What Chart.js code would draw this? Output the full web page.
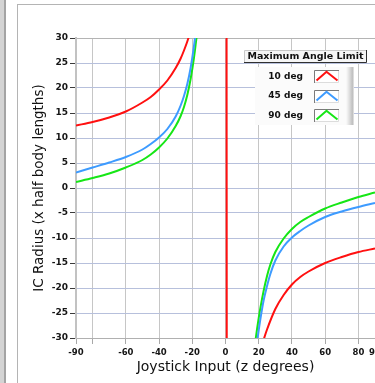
<!DOCTYPE html>
<html>
<head>
<meta charset="utf-8">
<script src="https://cdn.jsdelivr.net/npm/chart.js@4/dist/chart.umd.min.js"></script>
<style>
  html, body { margin: 0; padding: 0; background: #fff; width: 375px; height: 383px; overflow: hidden; }
  #bar { position: absolute; left: 0; top: 0; width: 4px; height: 383px; background: #d4d4d4; border-right: 2px solid #a4a4a4; }
  #frame { position: absolute; left: 17px; top: 4px; width: 420px; height: 420px; border-left: 1px solid #b4b4b4; border-top: 1px solid #b4b4b4; }
  #c { position: absolute; left: 0; top: 0; }
</style>
</head>
<body>
<div id="bar"></div>
<div id="frame"></div>
<canvas id="c" width="375" height="383"></canvas>
<script>
// Joystick input (degrees) and instantaneous-centre radius for each angle limit.
// A null radius breaks the line across the asymptote.
const zRed   = [-90, -80, -70, -60, -50, -45, -40, -35, -30, -27, -25, -23, -21, 0.6, 0.8,
                21, 23, 25, 30, 35, 40, 45, 50, 60, 70, 80, 90];
const rRed   = [12.5, 13.2, 14.1, 15.3, 17.1, 18.2, 19.7, 21.5, 24.0, 25.9, 27.5, 29.3, 31.4, 60, -60,
                -32.5, -30.3, -28.3, -24.2, -21.4, -19.3, -17.8, -16.7, -15.0, -13.8, -12.8, -12.1];

const zBlue  = [-90, -80, -70, -60, -50, -45, -40, -35, -30, -27, -25, -23, -21, -19, -18, 0,
                19, 20, 21, 23, 25, 27, 30, 35, 40, 45, 50, 60, 70, 80, 90];
const rBlue  = [3.1, 4.1, 5.1, 6.2, 7.7, 8.8, 10.1, 11.8, 14.3, 16.5, 18.4, 20.8, 24.0, 28.3, 31.0, null,
                -30.8, -28.4, -26.2, -22.4, -19.6, -17.2, -14.5, -11.7, -9.9, -8.6, -7.5, -5.8, -4.7, -3.8, -3.0];

const zGreen = [-90, -80, -70, -60, -50, -45, -40, -35, -30, -27, -25, -23, -21, -19, -18, -17, 0,
                18, 19, 20, 21, 23, 25, 27, 30, 35, 40, 45, 50, 60, 70, 80, 90];
const rGreen = [1.2, 2.0, 2.9, 4.1, 5.6, 6.7, 8.1, 9.9, 12.4, 14.4, 16.2, 18.6, 21.8, 26.0, 28.6, 31.3, null,
                -30.6, -28.2, -26.0, -24.0, -20.5, -17.6, -15.3, -12.8, -10.1, -8.2, -6.8, -5.8, -4.1, -2.9, -1.8, -0.9];

const seriesNames  = ['10 deg', '45 deg', '90 deg'];
const seriesColors = ['#ff1010', '#3d9bff', '#16e616'];

// Axis ticks: marks every 20 plus both ends; -80 carries no label.
const xTicks  = [-90, -80, -60, -40, -20, 0, 20, 40, 60, 80, 90];
const xLabels = [-90, -60, -40, -20, 0, 20, 40, 60, 80, 90];
const yTicks  = [-30, -25, -20, -15, -10, -5, 0, 5, 10, 15, 20, 25, 30];

const legendTitle = 'Maximum Angle Limit';
const xTitle = 'Joystick Input (z degrees)';
const yTitle = 'IC Radius (x half body lengths)';

const pairs = (xs, ys) => xs.map((x, i) => ({ x: x, y: ys[i] }));

// Framed legend panel drawn over the plot.
const angleLegend = {
  id: 'angleLegend',
  afterDraw(chart) {
    const ctx = chart.ctx;
    ctx.save();
    // panel
    ctx.fillStyle = '#fbfbfb';
    ctx.fillRect(255, 67, 99, 58);
    const g = ctx.createLinearGradient(346, 0, 354, 0);
    g.addColorStop(0, 'rgba(170,170,170,0)');
    g.addColorStop(0.8, 'rgba(150,150,150,0.6)');
    g.addColorStop(1, 'rgba(200,200,200,0.4)');
    ctx.fillStyle = g;
    ctx.fillRect(346, 67, 8, 58);

    // title box
    ctx.fillStyle = '#f6f6f6';
    ctx.fillRect(244, 51, 123, 12);
    ctx.lineWidth = 1;
    ctx.strokeStyle = '#c8c8c8';
    ctx.beginPath();
    ctx.moveTo(244.5, 63); ctx.lineTo(244.5, 50.5); ctx.lineTo(367, 50.5);
    ctx.stroke();
    ctx.strokeStyle = '#303030';
    ctx.beginPath();
    ctx.moveTo(244, 62.5); ctx.lineTo(366.5, 62.5); ctx.lineTo(366.5, 50);
    ctx.stroke();
    ctx.fillStyle = '#111';
    ctx.font = 'bold 9.5px "DejaVu Sans"';
    ctx.textAlign = 'center';
    ctx.textBaseline = 'middle';
    ctx.fillText(legendTitle, 305.5, 57);

    // entries
    chart.data.datasets.forEach((ds, i) => {
      const cy = 76.7 + i * 19.3;
      ctx.fillStyle = '#111';
      ctx.font = 'bold 9px "DejaVu Sans"';
      ctx.textAlign = 'right';
      ctx.fillText(ds.label, 303, cy);
      const bx = 314, by = Math.round(cy - 6.5);
      ctx.fillStyle = '#ffffff';
      ctx.fillRect(bx, by, 25, 13);
      ctx.strokeStyle = '#7a7a7a';
      ctx.beginPath();
      ctx.moveTo(bx + 0.5, by + 13); ctx.lineTo(bx + 0.5, by + 0.5); ctx.lineTo(bx + 25, by + 0.5);
      ctx.stroke();
      ctx.strokeStyle = '#dcdcdc';
      ctx.beginPath();
      ctx.moveTo(bx + 1, by + 12.5); ctx.lineTo(bx + 24.5, by + 12.5); ctx.lineTo(bx + 24.5, by + 1);
      ctx.stroke();
      ctx.strokeStyle = ds.borderColor;
      ctx.lineWidth = 2;
      ctx.beginPath();
      ctx.moveTo(bx + 2.5, by + 10.5);
      ctx.lineTo(bx + 12.5, by + 1.8);
      ctx.lineTo(bx + 23.5, by + 10.5);
      ctx.stroke();
      ctx.lineWidth = 1;
    });
    ctx.restore();
  }
};

const tickFontX = { family: 'DejaVu Sans', size: 8.5, weight: 'bold' };
const tickFontY = { family: 'DejaVu Sans', size: 9, weight: 'bold' };
const xTitleFont = { family: 'DejaVu Sans', size: 14, weight: 'normal' };
const yTitleFont = { family: 'DejaVu Sans', size: 13.5, weight: 'normal' };

new Chart(document.getElementById('c'), {
  type: 'scatter',
  data: {
    datasets: [
      { label: seriesNames[0], data: pairs(zRed, rRed),     borderColor: seriesColors[0] },
      { label: seriesNames[1], data: pairs(zBlue, rBlue),   borderColor: seriesColors[1] },
      { label: seriesNames[2], data: pairs(zGreen, rGreen), borderColor: seriesColors[2] }
    ].map(d => Object.assign(d, {
      showLine: true, borderWidth: 2, pointRadius: 0, pointHoverRadius: 0,
      cubicInterpolationMode: 'monotone', spanGaps: false, backgroundColor: d.borderColor
    }))
  },
  options: {
    responsive: false,
    animation: false,
    events: [],
    layout: { padding: { left: 0, right: 0, top: 38, bottom: 0 } },
    plugins: { legend: { display: false }, tooltip: { enabled: false } },
    scales: {
      x: {
        type: 'linear', min: -90, max: 90,
        afterBuildTicks: s => { s.ticks = xTicks.map(v => ({ value: v })); },
        afterFit: s => { s.height = 45; s.paddingLeft = 0; s.paddingRight = 0; },
        ticks: {
          autoSkip: false, maxRotation: 0, padding: 4, color: '#151515', font: tickFontX,
          callback: v => (xLabels.includes(v) ? String(v) : '')
        },
        grid: { color: '#c6c6c6', lineWidth: 1, tickLength: 6, tickColor: '#a8a8a8' },
        border: { color: '#b0b0b0', width: 1 },
        title: { display: true, text: xTitle, color: '#111', font: xTitleFont, padding: { top: 0, bottom: 7.6 } }
      },
      y: {
        type: 'linear', min: -30, max: 30,
        afterBuildTicks: s => { s.ticks = yTicks.map(v => ({ value: v })); },
        afterFit: s => { s.width = 76; },
        ticks: { padding: 2, color: '#151515', font: tickFontY },
        grid: {
          color: c => (c.tick && Math.abs(c.tick.value) === 30 ? '#b4b4b4' : '#b7c0dc'),
          lineWidth: 1, tickLength: 6, tickColor: '#3a3a3a'
        },
        border: { color: '#c2c2c2', width: 2 },
        title: { display: true, text: yTitle, color: '#111', font: yTitleFont, padding: { top: 31.4, bottom: 0 } }
      }
    }
  },
  plugins: [angleLegend]
});
</script>
</body>
</html>
